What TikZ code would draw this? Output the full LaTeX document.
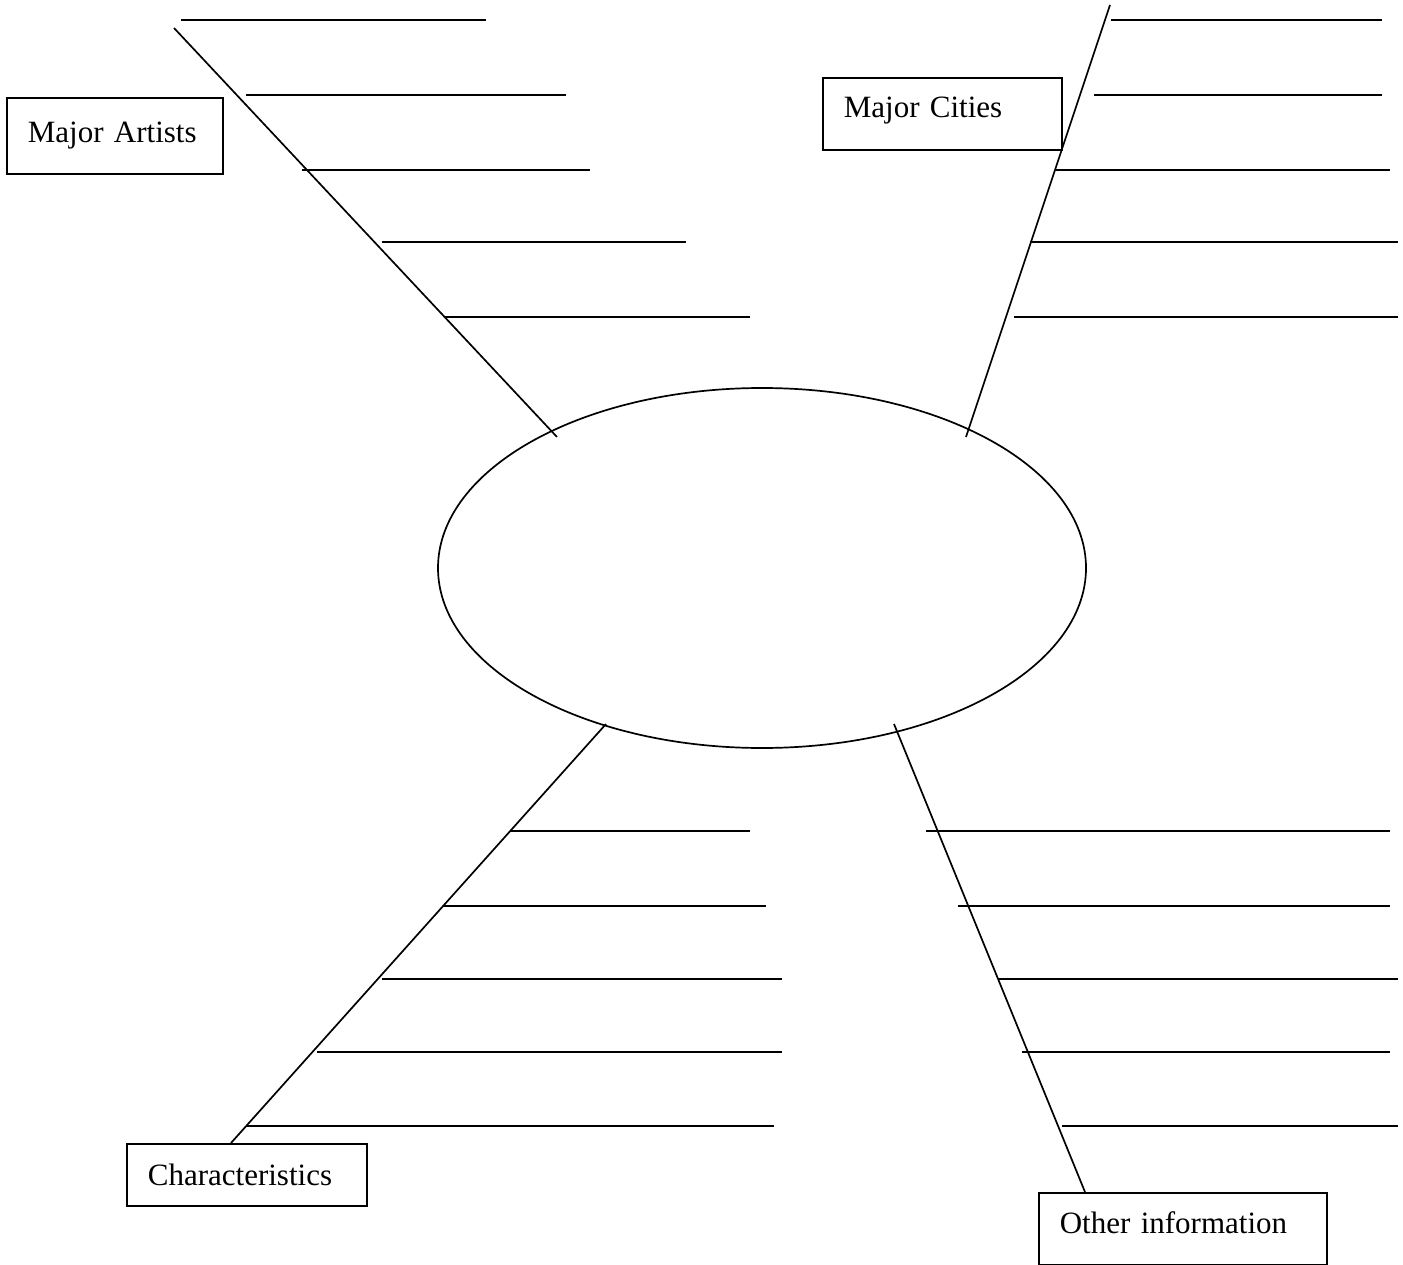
\documentclass[tikz,border=0pt]{standalone}
\usepackage{fontspec}
\setmainfont{Liberation Serif}
\usetikzlibrary{shapes.geometric}
\begin{document}
\begin{tikzpicture}[x=1pt,y=-1pt,
  ln/.style={line width=1.7pt,black},
  lbox/.style={draw,line width=1.7pt,rectangle,anchor=north west,inner xsep=21pt,inner ysep=0pt,
    align=left,font=\fontsize{31}{36}\selectfont},
  oval/.style={draw,line width=1.7pt,ellipse,inner sep=0pt}]
\useasboundingbox (0,0) rectangle (1403,1265);
% central ellipse
\node[oval,minimum width=648pt,minimum height=360pt] (E) at (762,568) {};
% boxes
\node[lbox,minimum width=216pt,minimum height=76pt,text width=174pt] (MA) at (6,97) {Major Artists};
\node[lbox,minimum width=239pt,minimum height=72pt,text width=197pt,text depth=14pt] (MC) at (822,77) {Major Cities};
\node[lbox,minimum width=240pt,minimum height=62pt,text width=198pt] (CH) at (126,1143) {Characteristics};
\node[lbox,minimum width=288pt,minimum height=72pt,text width=246pt,text depth=12pt] (OI) at (1038,1192) {Other information};
% spine coordinates
\coordinate (tl0) at (174,28);  \coordinate (tl1) at (557,437);
\coordinate (tr0) at (1110,5);  \coordinate (tr1) at (966,437);
\coordinate (bl0) at (606,724); \coordinate (bl1) at (231,1143);
\coordinate (br0) at (894,724); \coordinate (br1) at (1085,1192);
\draw[ln] (tl0) -- (tl1);
\draw[ln] (tr0) -- (tr1);
\draw[ln] (bl0) -- (bl1);
\draw[ln] (br0) -- (br1);
% writing lines, top-left
\draw[ln] (181,20) -- (486,20);
\draw[ln] (246,95) -- (566,95);
\draw[ln] (302,170) -- (590,170);
\draw[ln] (382,242) -- (686,242);
\draw[ln] (445,317) -- (750,317);
% top-right
\draw[ln] (1111,20) -- (1382,20);
\draw[ln] (1094,95) -- (1382,95);
\draw[ln] (1055,170) -- (1390,170);
\draw[ln] (1030,242) -- (1398,242);
\draw[ln] (1014,317) -- (1398,317);
% bottom-left
\draw[ln] (510,831) -- (750,831);
\draw[ln] (443,906) -- (766,906);
\draw[ln] (382,979) -- (782,979);
\draw[ln] (317,1052) -- (782,1052);
\draw[ln] (246,1126) -- (774,1126);
% bottom-right
\draw[ln] (926,831) -- (1390,831);
\draw[ln] (958,906) -- (1390,906);
\draw[ln] (998,979) -- (1398,979);
\draw[ln] (1022,1052) -- (1390,1052);
\draw[ln] (1062,1126) -- (1398,1126);
\end{tikzpicture}
\end{document}
